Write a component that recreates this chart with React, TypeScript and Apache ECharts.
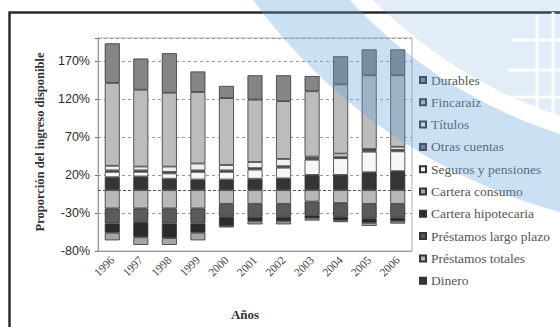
import React, { useEffect, useRef } from 'react';
import * as echarts from 'echarts';

const years = ['1996', '1997', '1998', '1999', '2000', '2001', '2002', '2003', '2004', '2005', '2006'];

// positive (assets), stacked from zero upward
const dinero = [17, 18, 15, 14, 14, 15, 15.5, 20, 20, 23.5, 25];
const seguros = [7, 6, 7, 10, 10, 12, 14, 20, 22, 27, 26];
const otrasCuentas = [2, 2, 2, 2, 2, 2, 2, 2, 2, 2, 2];
const titulos = [6, 5, 7, 9, 7, 8, 9.5, 2, 4, 1.5, 4];
const fincaraiz = [109, 101, 97, 94, 88, 82, 76, 86, 91, 97, 94];
const durables = [52, 41, 52, 27, 16, 32, 34, 20, 37, 34, 34];

// negative (liabilities), stacked from zero downward
const prestamosTotales = [-24, -24, -24, -24, -18, -18, -18, -15, -17, -18, -18];
const prestamosLargo = [-20, -18, -20, -20, -17, -17, -17, -18, -18, -19, -18];
const carteraHipotecaria = [-12, -20, -19, -12, -12, -6, -6, -4, -5, -6, -5];
const carteraConsumo = [-10, -10, -9, -10, -2, -4, -4, -3, -2, -4, -3];

const yMin = -80;
const yMax = 200;
const yInterval = 50;

const legendOrder = [
  'Durables',
  'Fincaraiz',
  'Títulos',
  'Otras cuentas',
  'Seguros y pensiones',
  'Cartera consumo',
  'Cartera hipotecaria',
  'Préstamos largo plazo',
  'Préstamos totales',
  'Dinero',
];

export default function App() {
  const ref = useRef<HTMLDivElement>(null);

  useEffect(() => {
    if (!ref.current) return;
    const chart = echarts.init(ref.current, null, { renderer: 'svg' });

    const mk = (name: string, data: number[], color: string, extra?: any) => ({
      name,
      type: 'bar',
      stack: 'total',
      data,
      barWidth: 15,
      emphasis: { disabled: true },
      itemStyle: {
        color,
        borderColor: '#333',
        borderWidth: 0.8,
      },
      ...(extra || {}),
    });

    const serif = '"Liberation Serif", "Times New Roman", serif';
    const sans = '"Liberation Sans", Arial, sans-serif';

    const cx = 708;
    const cy = -330;

    const whiteLine = (points: number[][]) => ({
      type: 'polyline',
      z: 101,
      silent: true,
      shape: { points },
      style: { stroke: 'rgba(255,255,255,0.85)', lineWidth: 3, fill: 'none' },
    });

    const option: any = {
      animation: false,
      backgroundColor: '#ffffff',
      textStyle: { fontFamily: serif },
      grid: {
        left: 98,
        right: 148,
        top: 38,
        bottom: 76,
        show: true,
        borderColor: '#b0b0b0',
        borderWidth: 1,
        backgroundColor: 'transparent',
        containLabel: false,
      },
      legend: {
        orient: 'vertical',
        left: 414,
        top: 68,
        itemWidth: 6,
        itemHeight: 6,
        itemGap: 8.3,
        icon: 'rect',
        selectedMode: false,
        data: legendOrder,
        textStyle: {
          fontFamily: serif,
          fontSize: 13.5,
          color: '#555',
          lineHeight: 14,
        },
      },
      xAxis: {
        type: 'category',
        data: years,
        axisLine: { onZero: false, lineStyle: { color: '#999', width: 1 } },
        axisTick: { show: false },
        axisLabel: {
          rotate: 45,
          interval: 0,
          margin: 7,
          fontFamily: serif,
          fontSize: 11.5,
          color: '#444',
        },
        splitLine: { show: false },
      },
      yAxis: {
        type: 'value',
        min: yMin,
        max: yMax,
        interval: yInterval,
        axisLine: { show: true, lineStyle: { color: '#999' } },
        axisTick: { show: true, length: 3, lineStyle: { color: '#777' } },
        axisLabel: {
          margin: 8,
          fontFamily: sans,
          fontSize: 12.5,
          color: '#2a2a2a',
          formatter: (v: number) => (v === yMax ? '' : v + '%'),
        },
        splitLine: { show: true, lineStyle: { color: '#9a9a9a', type: [3, 3], width: 1 } },
      },
      series: [
        mk('Dinero', dinero, '#353535', {
          markLine: {
            silent: true,
            symbol: 'none',
            label: { show: false },
            lineStyle: { color: '#555', type: [3, 2], width: 1 },
            data: [{ yAxis: 0 }],
          },
        }),
        mk('Préstamos totales', prestamosTotales, '#b8b8b8'),
        mk('Préstamos largo plazo', prestamosLargo, '#5a5a5a'),
        mk('Cartera hipotecaria', carteraHipotecaria, '#2b2b2b'),
        mk('Cartera consumo', carteraConsumo, '#a6a6a6'),
        mk('Seguros y pensiones', seguros, '#f7f7f7'),
        mk('Otras cuentas', otrasCuentas, '#777777'),
        mk('Títulos', titulos, '#f0f0f0'),
        mk('Fincaraiz', fincaraiz, '#bcbcbc'),
        mk('Durables', durables, '#858585'),
      ],
      graphic: [
        {
          type: 'rect',
          z: 50,
          silent: true,
          shape: { x: 9.5, y: 12.5, width: 700, height: 500 },
          style: { fill: 'none', stroke: '#2b2b2b', lineWidth: 2.5 },
        },
        {
          type: 'text',
          z: 50,
          silent: true,
          x: 40,
          y: 142,
          rotation: Math.PI / 2,
          style: {
            text: 'Proporción del ingreso disponible',
            fontFamily: serif,
            fontWeight: 'bold',
            fontSize: 12.5,
            fill: '#333',
            align: 'center',
            verticalAlign: 'middle',
          },
        },
        {
          type: 'text',
          z: 50,
          silent: true,
          x: 245,
          y: 314,
          style: {
            text: 'Años',
            fontFamily: serif,
            fontWeight: 'bold',
            fontSize: 13,
            fill: '#333',
            align: 'center',
            verticalAlign: 'middle',
          },
        },
        // watermark: globe
        {
          type: 'sector',
          z: 100,
          silent: true,
          shape: { cx, cy, r0: 0, r: 470, startAngle: 1.5, endAngle: 3.2 },
          style: { fill: 'rgba(110,165,220,0.2)' },
        },
        // watermark: swoosh
        {
          type: 'sector',
          z: 100,
          silent: true,
          shape: { cx, cy, r0: 487, r: 562, startAngle: 1.45, endAngle: 3.2 },
          style: { fill: 'rgba(100,160,220,0.33)' },
        },
        whiteLine([[537, 15], [537, 125]]),
        whiteLine([[553, 12], [553, 122]]),
        whiteLine([[512, 40], [560, 40]]),
        whiteLine([[508, 70], [560, 70]]),
        whiteLine([[505, 97], [560, 97]]),
      ],
    };

    chart.setOption(option);
    return () => chart.dispose();
  }, []);

  return (
    <div
      ref={ref}
      style={{ position: 'fixed', left: 0, top: 0, width: 560, height: 327, background: '#fff' }}
    />
  );
}
